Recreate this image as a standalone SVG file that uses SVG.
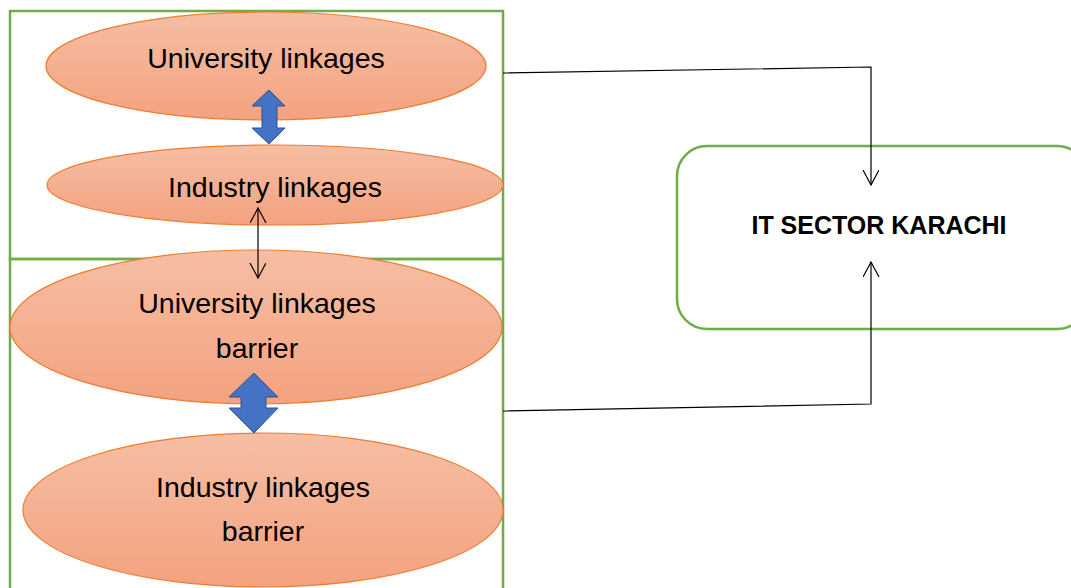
<svg xmlns="http://www.w3.org/2000/svg" width="1071" height="588" viewBox="0 0 1071 588">
  <defs>
    <linearGradient id="peach" x1="0" y1="0" x2="0" y2="1">
      <stop offset="0" stop-color="#f6bea4"/>
      <stop offset="1" stop-color="#f4a27f"/>
    </linearGradient>
    <marker id="openHead" markerWidth="20" markerHeight="20" refX="15" refY="8" orient="auto" markerUnits="userSpaceOnUse">
      <path d="M0,0 L15,8 L0,16" fill="none" stroke="#000" stroke-width="1.2"/>
    </marker>
  </defs>
  <style>
    .frame { fill: none; stroke: #70ad47; stroke-width: 2.5; }
    .oval { fill: url(#peach); stroke: #ed7d31; stroke-width: 1.2; }
    .label { font-family: "Liberation Sans", Arial, sans-serif; font-size: 28.5px; fill: #000; text-anchor: middle; }
    .title { font-family: "Liberation Sans", Arial, sans-serif; font-size: 25px; font-weight: bold; fill: #000; text-anchor: middle; }
    .link { fill: none; stroke: #000; stroke-width: 1.2; }
    .bigArrow { fill: #4472c4; stroke: #2f528f; stroke-width: 1; }
  </style>

  <rect id="white-bg" x="0" y="0" width="1071" height="588" fill="#fff"/>

  <!-- grouping frames -->
  <g id="linkages-frame">
    <rect class="frame" x="10" y="11" width="493" height="248"/>
  </g>
  <g id="barriers-frame">
    <rect class="frame" x="10" y="259" width="493" height="340"/>
  </g>

  <g id="university-linkages">
    <ellipse class="oval" cx="266" cy="66" rx="220" ry="54"/>
    <text class="label" x="266" y="68">University linkages</text>
  </g>

  <g id="industry-linkages">
    <ellipse class="oval" cx="275" cy="185" rx="228" ry="40"/>
    <text class="label" x="275" y="197">Industry linkages</text>
  </g>

  <g id="university-barrier">
    <ellipse class="oval" cx="256" cy="327" rx="246" ry="77"/>
    <text class="label" x="257" y="313">University linkages</text>
    <text class="label" x="257" y="358">barrier</text>
  </g>

  <g id="industry-barrier">
    <ellipse class="oval" cx="263" cy="510" rx="240" ry="77"/>
    <text class="label" x="263" y="497">Industry linkages</text>
    <text class="label" x="263" y="541">barrier</text>
  </g>

  <g id="it-sector">
    <rect class="frame" x="677" y="146" width="410" height="183" rx="30" ry="30"/>
    <text class="title" x="879" y="234">IT SECTOR KARACHI</text>
  </g>

  <!-- connectors -->
  <g id="connectors">
    <!-- block double arrows between ovals -->
    <path class="bigArrow" d="M269,90 L285,106 L277,106 L277,128 L285,128 L269,144 L252,128 L262,128 L262,106 L252,106 Z"/>
    <path class="bigArrow" d="M254,373 L278,397 L266,397 L266,408 L278,408 L254,433 L229,408 L241,408 L241,397 L229,397 Z"/>
    <!-- thin double arrow -->
    <line class="link" x1="258" y1="243" x2="258" y2="208" marker-end="url(#openHead)"/>
    <line class="link" x1="258" y1="243" x2="258" y2="278" marker-end="url(#openHead)"/>
    <!-- links into the IT sector box -->
    <polyline class="link" points="503,73 871,67 871,185" marker-end="url(#openHead)"/>
    <polyline class="link" points="503,411 871,404 871,262" marker-end="url(#openHead)"/>
  </g>
</svg>
